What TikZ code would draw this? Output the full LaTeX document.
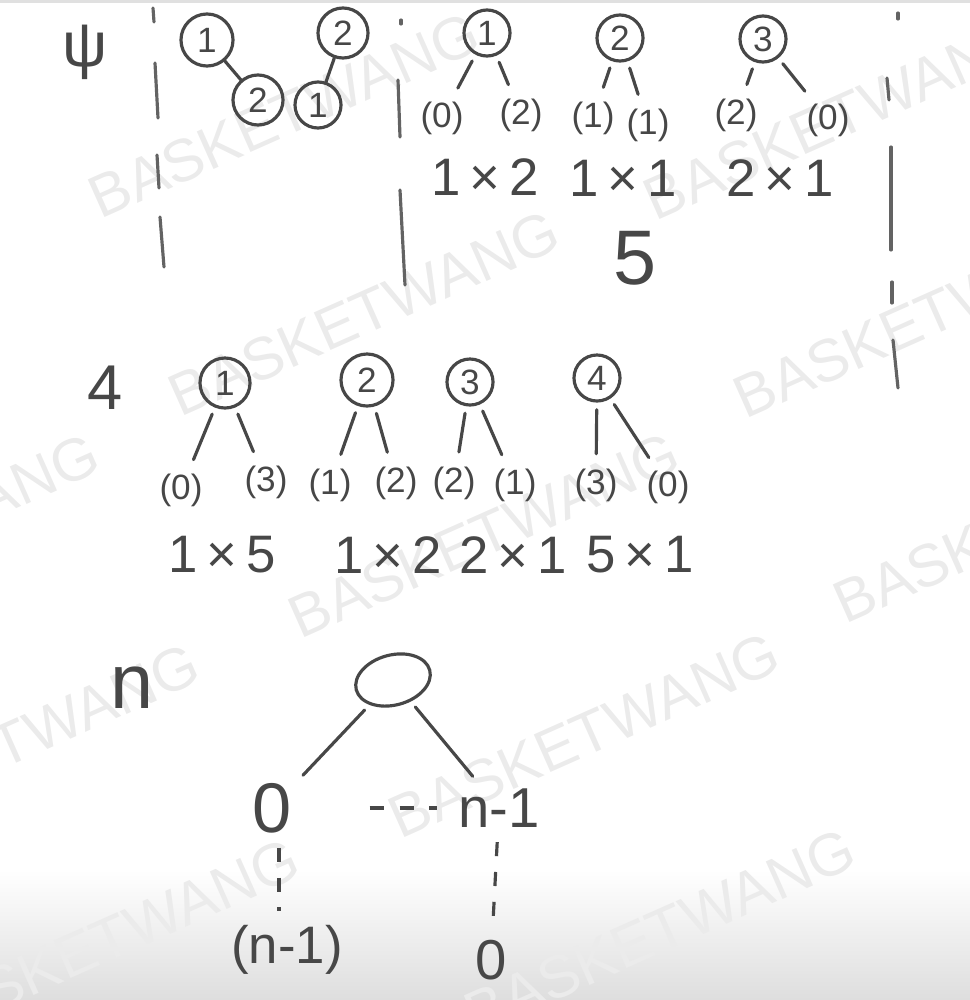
\documentclass[tikz,border=0pt]{standalone}
\usepackage{fontspec}
\setmainfont{Liberation Sans}
\usepackage{tikz}
\usetikzlibrary{positioning,shapes.geometric}
\definecolor{ink}{HTML}{474747}
\definecolor{wmgray}{HTML}{EBEBEB}
\tikzset{
  treenode/.style={circle, draw=ink, line width=0.9pt, text=ink,
    minimum size=0.46cm, inner sep=0pt, font=\fontsize{10}{12}\selectfont},
  sublabel/.style={text=ink, inner sep=1pt, font=\fontsize{10}{12}\selectfont},
  prodlabel/.style={text=ink, inner sep=1pt, font=\fontsize{15}{18}\selectfont},
  sizelabel/.style={text=ink, inner sep=1pt, font=\fontsize{#1}{#1}\selectfont},
  sizelabel/.default=18,
  link/.style={draw=ink, line width=0.9pt, line cap=round},
  edge/.style={link, shorten <=2pt, shorten >=3pt},
  divider/.style={draw=ink!85, line width=0.9pt, line cap=round},
  gapline/.style={draw=ink, line width=0.9pt, dash pattern=on 4pt off 4.5pt},
  wmark/.style={text=wmgray, rotate=24, anchor=base west, inner sep=0pt,
    font=\fontsize{17}{17}\selectfont},
}

\begin{document}
\begin{tikzpicture}[x=0.01cm, y=-0.01cm]
\useasboundingbox (0,0) rectangle (970,1000);
% faded strip and watermark
\shade[top color=white, bottom color=black!13] (0,870) rectangle (970,1000);
\fill[black!12] (0,0) rectangle (970,3);
\foreach \wx/\wy in {100/220, 180/418, 655/222, 745/420, -280/641, 300/640,
                     845/625, -180/851, 400/840, 476/1036, -80/1046}
  \node[wmark] at (\wx,\wy) {BASKETWANG};

% dividers
\foreach \xa/\ya/\xb/\yb in {153/8/154/22, 155/63/158/118, 157/155/159/188, 160/217/164/267,
    401/20/401/24, 398/80/400/137, 400/190/405/285,
    898/13/898/19, 887/78/889/100, 891/147/891/250, 892/282/892/303, 893/340/898/388}
  \draw[divider] (\xa,\ya) -- (\xb,\yb);

% two nodes
\node[sizelabel] (k2) at (85,52) {ψ};
\node[treenode, minimum size=0.52cm] (a1) at (207,40) {1};
\node[treenode, minimum size=0.5cm] (a2) at (258,100) {2};
\node[treenode, minimum size=0.5cm] (b2) at (343,33) {2};
\node[treenode] (b1) at (318,105) {1};
\draw[link] (a1) -- (a2);
\draw[link] (b2) -- (b1);

% three nodes
\node[treenode] (r31) at (487,33) {1};
\node[treenode] (r32) at (620,38) {2};
\node[treenode] (r33) at (763,39) {3};
\node[sublabel] (l31) at (442,118) {(0)};
\node[sublabel] (m31) at (521,115) {(2)};
\node[sublabel] (l32) at (593,118) {(1)};
\node[sublabel] (m32) at (648,125) {(1)};
\node[sublabel] (l33) at (736,115) {(2)};
\node[sublabel] (m33) at (828,120) {(0)};
\foreach \i in {1,2,3} {
  \draw[edge] (r3\i) -- (l3\i);
  \draw[edge] (r3\i) -- (m3\i);
}
\node[prodlabel] (p31) at (485,177) {1\,×\,2};
\node[prodlabel] (p32) at (623,178) {1\,×\,1};
\node[prodlabel] (p33) at (780,178) {2\,×\,1};
\node[sizelabel=22] (s3) at (635,258) {5};

% four nodes
\node[sizelabel] (k4) at (105,388) {4};
\node[treenode, minimum size=0.5cm] (r41) at (225,383) {1};
\node[treenode, minimum size=0.52cm] (r42) at (367,380) {2};
\node[treenode] (r43) at (470,382) {3};
\node[treenode] (r44) at (597,378) {4};
\node[sublabel] (l41) at (181,490) {(0)};
\node[sublabel] (m41) at (266,482) {(3)};
\node[sublabel] (l42) at (330,485) {(1)};
\node[sublabel] (m42) at (396,483) {(2)};
\node[sublabel] (l43) at (454,483) {(2)};
\node[sublabel] (m43) at (515,485) {(1)};
\node[sublabel] (l44) at (596,485) {(3)};
\node[sublabel] (m44) at (668,487) {(0)};
\foreach \i in {1,...,4} {
  \draw[edge] (r4\i) -- (l4\i);
  \draw[edge] (r4\i) -- (m4\i);
}
\node[prodlabel] (p41) at (222,555) {1\,×\,5};
\node[prodlabel] (p42) at (388,555) {1\,×\,2};
\node[prodlabel] (p43) at (513,555) {2\,×\,1};
\node[prodlabel] (p44) at (640,555) {5\,×\,1};

% n nodes
\node[sizelabel=22] (kn) at (132,688) {n};
\node[ellipse, draw=ink, line width=0.9pt, minimum width=0.76cm,
  minimum height=0.5cm, rotate=15] (rn) at (393,680) {};
\node[sizelabel=20] (n0) at (272,808) {0};
\node[sizelabel=16] (nlast) at (499,808) {n-1};
\draw[edge] (rn) -- (n0);
\draw[edge] (rn) -- (nlast);
\draw[gapline, shorten <=21pt, shorten >=5pt] (n0) -- (nlast);
\node[sizelabel=15] (b0) at (287,950) {(n-1)};
\node[sizelabel=16] (bl) at (491,960) {0};
\draw[gapline, shorten <=3pt, shorten >=3pt] ([xshift=0.07cm]n0.south) -- ([xshift=0.07cm]n0.south |- b0.north);
\draw[gapline, shorten <=3pt, shorten >=3pt] (nlast) -- (bl);
\end{tikzpicture}
\end{document}
